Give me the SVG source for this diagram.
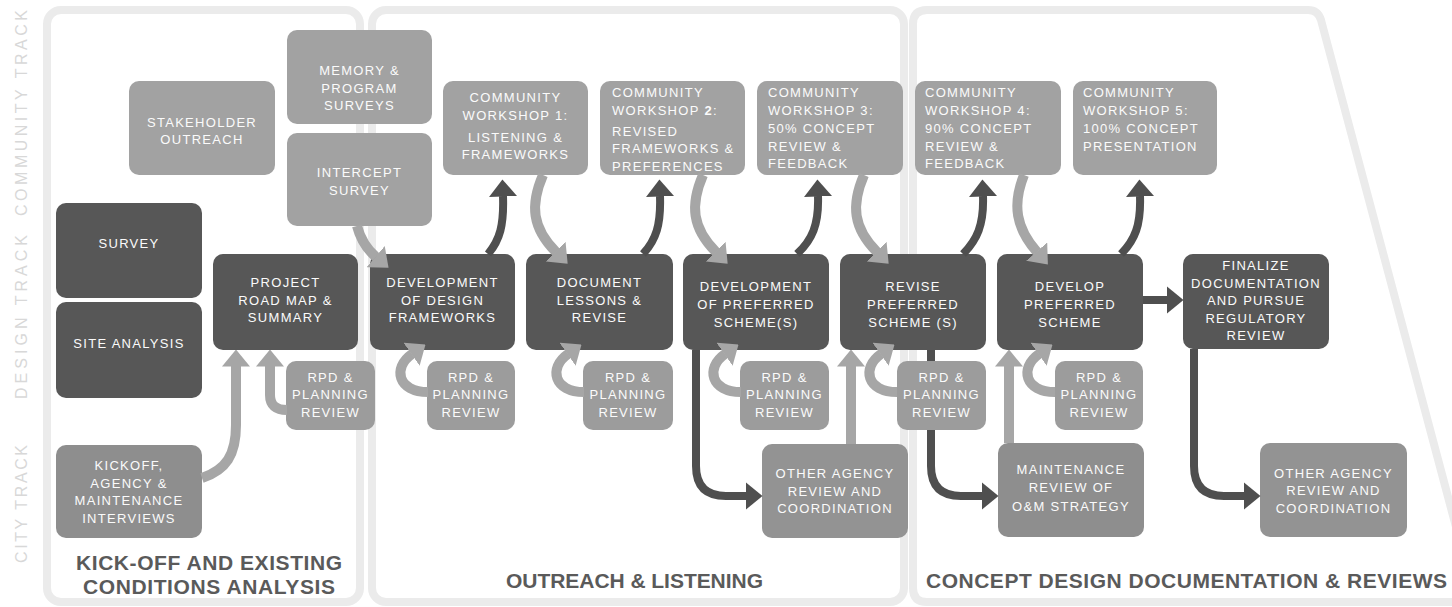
<svg xmlns="http://www.w3.org/2000/svg" width="1452" height="607" viewBox="0 0 1452 607">
<defs>
<style>
.panel{fill:#fff;stroke:#ebebeb;stroke-width:8}
.trk{font-family:"Liberation Sans",Arial,sans-serif;font-size:16px;fill:#d8d8d8;text-anchor:middle;letter-spacing:2px}
.n text{font-family:"Liberation Sans",Arial,sans-serif;font-size:13px;letter-spacing:1.3px;fill:#fbfbfb;text-anchor:middle}
.n text.l{text-anchor:start}
.dk{fill:#575757}
.cm{fill:#a2a2a2}
.rpd{fill:#9c9c9c}
.ct{fill:#8e8e8e}
.oa{fill:#939393}
.h{font-family:"Liberation Sans",Arial,sans-serif;font-size:21px;font-weight:bold;fill:#5a5a5a;text-anchor:middle}
.ad{fill:none;stroke:#4f4f4f;stroke-width:8;marker-end:url(#hd)}
.al{fill:none;stroke:#a6a6a6;stroke-width:10;marker-end:url(#hl)}
</style>
<marker id="hd" markerUnits="userSpaceOnUse" viewBox="0 0 17 28" markerWidth="17" markerHeight="28" refX="0.5" refY="14" orient="auto"><path d="M0,0 L17,14 L0,28 Z" fill="#4f4f4f"/></marker>
<marker id="hl" markerUnits="userSpaceOnUse" viewBox="0 0 17 28" markerWidth="17" markerHeight="28" refX="0.5" refY="14" orient="auto"><path d="M0,0 L17,14 L0,28 Z" fill="#a6a6a6"/></marker>
</defs>
<rect width="1452" height="607" fill="#fff"/>
<g id="panels">
<rect class="panel" x="47" y="10" width="313" height="592" rx="14"/>
<rect class="panel" x="372" y="10" width="532" height="592" rx="14"/>
<path class="panel" d="M927 10 H1308 Q1318 10 1321 20 L1476 602 H927 Q913 602 913 588 V24 Q913 10 927 10 Z"/>
</g>
<g id="track-labels">
<text class="trk" transform="translate(27,112) rotate(-90)" textLength="208">COMMUNITY TRACK</text>
<text class="trk" transform="translate(27,316) rotate(-90)" textLength="166">DESIGN TRACK</text>
<text class="trk" transform="translate(27,503) rotate(-90)" textLength="120">CITY TRACK</text>
</g>
<g id="phase-titles">
<text class="h" x="209" y="570" textLength="266">KICK-OFF AND EXISTING</text>
<text class="h" x="209" y="594" textLength="252">CONDITIONS ANALYSIS</text>
<text class="h" x="634.5" y="588" textLength="257">OUTREACH &amp; LISTENING</text>
<text class="h" x="1186.5" y="588" textLength="521">CONCEPT DESIGN DOCUMENTATION &amp; REVIEWS</text>
</g>
<g id="stakeholder-outreach" class="n"><rect class="cm" x="129" y="81" width="146" height="94" rx="10"/><text><tspan x="202" y="126.5">STAKEHOLDER</tspan><tspan x="202" y="143.5">OUTREACH</tspan></text></g>
<g id="memory-program-surveys" class="n"><rect class="cm" x="287" y="30" width="145" height="94" rx="10"/><text><tspan x="359.5" y="74.5">MEMORY &amp;</tspan><tspan x="359.5" y="92.5">PROGRAM</tspan><tspan x="359.5" y="109.5">SURVEYS</tspan></text></g>
<g id="intercept-survey" class="n"><rect class="cm" x="287" y="133" width="145" height="93" rx="10"/><text><tspan x="359.5" y="176.5">INTERCEPT</tspan><tspan x="359.5" y="194.5">SURVEY</tspan></text></g>
<g id="survey" class="n"><rect class="dk" x="56" y="203" width="146" height="95" rx="10"/><text x="129" y="247.5">SURVEY</text></g>
<g id="site-analysis" class="n"><rect class="dk" x="56" y="302" width="146" height="96" rx="10"/><text x="129" y="347.5">SITE ANALYSIS</text></g>
<g id="kickoff-interviews" class="n"><rect class="ct" x="56" y="445" width="146" height="93" rx="10"/><text><tspan x="129" y="469.5">KICKOFF,</tspan><tspan x="129" y="487.5">AGENCY &amp;</tspan><tspan x="129" y="504.5">MAINTENANCE</tspan><tspan x="129" y="522.5">INTERVIEWS</tspan></text></g>
<g id="project-road-map" class="n"><rect class="dk" x="213" y="254" width="145" height="96" rx="10"/><text><tspan x="285.5" y="286.5">PROJECT</tspan><tspan x="285.5" y="304.5">ROAD MAP &amp;</tspan><tspan x="285.5" y="321.5">SUMMARY</tspan></text></g>
<g id="rpd-review-1" class="n"><rect class="rpd" x="286" y="361" width="89" height="69" rx="10"/><text><tspan x="330.5" y="381.5">RPD &amp;</tspan><tspan x="330.5" y="398.5">PLANNING</tspan><tspan x="330.5" y="416.5">REVIEW</tspan></text></g>
<g id="dev-design-frameworks" class="n"><rect class="dk" x="370" y="254" width="145" height="96" rx="10"/><text><tspan x="442.5" y="286.5">DEVELOPMENT</tspan><tspan x="442.5" y="304.5">OF DESIGN</tspan><tspan x="442.5" y="321.5">FRAMEWORKS</tspan></text></g>
<g id="rpd-review-2" class="n"><rect class="rpd" x="427" y="361" width="88" height="69" rx="10"/><text><tspan x="471" y="381.5">RPD &amp;</tspan><tspan x="471" y="398.5">PLANNING</tspan><tspan x="471" y="416.5">REVIEW</tspan></text></g>
<g id="document-lessons" class="n"><rect class="dk" x="526" y="254" width="147" height="96" rx="10"/><text><tspan x="599.5" y="286.5">DOCUMENT</tspan><tspan x="599.5" y="304.5">LESSONS &amp;</tspan><tspan x="599.5" y="321.5">REVISE</tspan></text></g>
<g id="rpd-review-3" class="n"><rect class="rpd" x="583" y="361" width="90" height="69" rx="10"/><text><tspan x="628" y="381.5">RPD &amp;</tspan><tspan x="628" y="398.5">PLANNING</tspan><tspan x="628" y="416.5">REVIEW</tspan></text></g>
<g id="dev-preferred-schemes" class="n"><rect class="dk" x="683" y="254" width="146" height="96" rx="10"/><text><tspan x="756" y="290.5">DEVELOPMENT</tspan><tspan x="756" y="308.5">OF PREFERRED</tspan><tspan x="756" y="326.5">SCHEME(S)</tspan></text></g>
<g id="rpd-review-4" class="n"><rect class="rpd" x="740" y="361" width="89" height="69" rx="10"/><text><tspan x="784.5" y="381.5">RPD &amp;</tspan><tspan x="784.5" y="398.5">PLANNING</tspan><tspan x="784.5" y="416.5">REVIEW</tspan></text></g>
<g id="revise-preferred-schemes" class="n"><rect class="dk" x="840" y="254" width="146" height="96" rx="10"/><text><tspan x="913" y="290.5">REVISE</tspan><tspan x="913" y="308.5">PREFERRED</tspan><tspan x="913" y="326.5">SCHEME (S)</tspan></text></g>
<g id="rpd-review-5" class="n"><rect class="rpd" x="897" y="361" width="89" height="69" rx="10"/><text><tspan x="941.5" y="381.5">RPD &amp;</tspan><tspan x="941.5" y="398.5">PLANNING</tspan><tspan x="941.5" y="416.5">REVIEW</tspan></text></g>
<g id="develop-preferred-scheme" class="n"><rect class="dk" x="997" y="254" width="146" height="96" rx="10"/><text><tspan x="1070" y="290.5">DEVELOP</tspan><tspan x="1070" y="308.5">PREFERRED</tspan><tspan x="1070" y="326.5">SCHEME</tspan></text></g>
<g id="rpd-review-6" class="n"><rect class="rpd" x="1055" y="361" width="88" height="69" rx="10"/><text><tspan x="1099" y="381.5">RPD &amp;</tspan><tspan x="1099" y="398.5">PLANNING</tspan><tspan x="1099" y="416.5">REVIEW</tspan></text></g>
<g id="finalize-documentation" class="n"><rect class="dk" x="1183" y="254" width="146" height="95" rx="10"/><text><tspan x="1256" y="269.5">FINALIZE</tspan><tspan x="1256" y="287.5">DOCUMENTATION</tspan><tspan x="1256" y="304.5">AND PURSUE</tspan><tspan x="1256" y="322.5">REGULATORY</tspan><tspan x="1256" y="339.5">REVIEW</tspan></text></g>
<g id="community-workshop-1" class="n"><rect class="cm" x="443" y="81" width="145" height="94" rx="10"/><text><tspan x="515.5" y="101.5">COMMUNITY</tspan><tspan x="515.5" y="119.5">WORKSHOP 1:</tspan><tspan x="515.5" y="141.5">LISTENING &amp;</tspan><tspan x="515.5" y="158.5">FRAMEWORKS</tspan></text></g>
<g id="community-workshop-2" class="n"><rect class="cm" x="600" y="81" width="145" height="94" rx="10"/><text class="l"><tspan x="612" y="96.5">COMMUNITY</tspan><tspan x="612" y="114.5">WORKSHOP <tspan font-weight="bold">2</tspan>:</tspan><tspan x="612" y="135.5">REVISED</tspan><tspan x="612" y="152.5">FRAMEWORKS &amp;</tspan><tspan x="612" y="170.5">PREFERENCES</tspan></text></g>
<g id="community-workshop-3" class="n"><rect class="cm" x="757" y="81" width="146" height="94" rx="10"/><text class="l"><tspan x="768" y="96.5">COMMUNITY</tspan><tspan x="768" y="114.5">WORKSHOP 3:</tspan><tspan x="768" y="132.5">50% CONCEPT</tspan><tspan x="768" y="150.5">REVIEW &amp;</tspan><tspan x="768" y="167.5">FEEDBACK</tspan></text></g>
<g id="community-workshop-4" class="n"><rect class="cm" x="915" y="81" width="146" height="94" rx="10"/><text class="l"><tspan x="925" y="96.5">COMMUNITY</tspan><tspan x="925" y="114.5">WORKSHOP 4:</tspan><tspan x="925" y="132.5">90% CONCEPT</tspan><tspan x="925" y="150.5">REVIEW &amp;</tspan><tspan x="925" y="167.5">FEEDBACK</tspan></text></g>
<g id="community-workshop-5" class="n"><rect class="cm" x="1073" y="81" width="144" height="94" rx="10"/><text class="l"><tspan x="1083" y="96.5">COMMUNITY</tspan><tspan x="1083" y="114.5">WORKSHOP 5:</tspan><tspan x="1083" y="132.5">100% CONCEPT</tspan><tspan x="1083" y="150.5">PRESENTATION</tspan></text></g>
<g id="other-agency-review-1" class="n"><rect class="oa" x="762" y="444" width="146" height="94" rx="10"/><text><tspan x="835" y="477.5">OTHER AGENCY</tspan><tspan x="835" y="495.5">REVIEW AND</tspan><tspan x="835" y="512.5">COORDINATION</tspan></text></g>
<g id="maintenance-review" class="n"><rect class="ct" x="998" y="443" width="146" height="94" rx="10"/><text><tspan x="1071" y="473.5">MAINTENANCE</tspan><tspan x="1071" y="491.5">REVIEW OF</tspan><tspan x="1071" y="510.5">O&amp;M STRATEGY</tspan></text></g>
<g id="other-agency-review-2" class="n"><rect class="oa" x="1260" y="443" width="147" height="94" rx="10"/><text><tspan x="1333.5" y="477.5">OTHER AGENCY</tspan><tspan x="1333.5" y="494.5">REVIEW AND</tspan><tspan x="1333.5" y="512.5">COORDINATION</tspan></text></g>
<g id="connectors">
<path class="al" d="M357 226 Q362 245 376 257"/>
<path class="ad" d="M488 254 C500 240 504 225 503 196"/>
<path class="al" d="M543 175 C530 205 532 228 556 252"/>
<path class="ad" d="M643 254 C656 240 661 225 660 196"/>
<path class="al" d="M703 175 C690 205 692 228 716 252"/>
<path class="ad" d="M797 254 C812 240 819 225 818 196"/>
<path class="al" d="M864 175 C851 205 853 228 877 252"/>
<path class="ad" d="M963 254 C977 240 984 225 983 196"/>
<path class="al" d="M1024 175 C1012 205 1016 228 1037 252"/>
<path class="ad" d="M1121 254 C1135 240 1141 225 1140 196"/>
<path class="ad" d="M1143 300 L1167 300"/>
<path class="al" d="M202 478 C226 470 236 455 236 425 L236 366"/>
<path class="al" d="M287 410 Q270 410 270 395 L270 366"/>
<path class="al" d="M428 392 C398 392 392 368 412 354"/>
<path class="al" d="M584 392 C554 392 548 368 568 354"/>
<path class="al" d="M741 392 C711 392 705 368 725 354"/>
<path class="al" d="M897 392 C867 392 861 368 881 354"/>
<path class="al" d="M1055 392 C1025 392 1019 368 1039 354"/>
<path class="al" d="M851 444 L851 366"/>
<path class="al" d="M1009 443 L1009 366"/>
<path class="ad" d="M696 350 L696 466 Q696 496 726 496 L746 496"/>
<path class="ad" d="M931 350 L931 361 M931 430 L931 466 Q931 496 961 496 L982 496"/>
<path class="ad" d="M1194 349 L1194 466 Q1194 496 1224 496 L1244 496"/>
</g>
</svg>
